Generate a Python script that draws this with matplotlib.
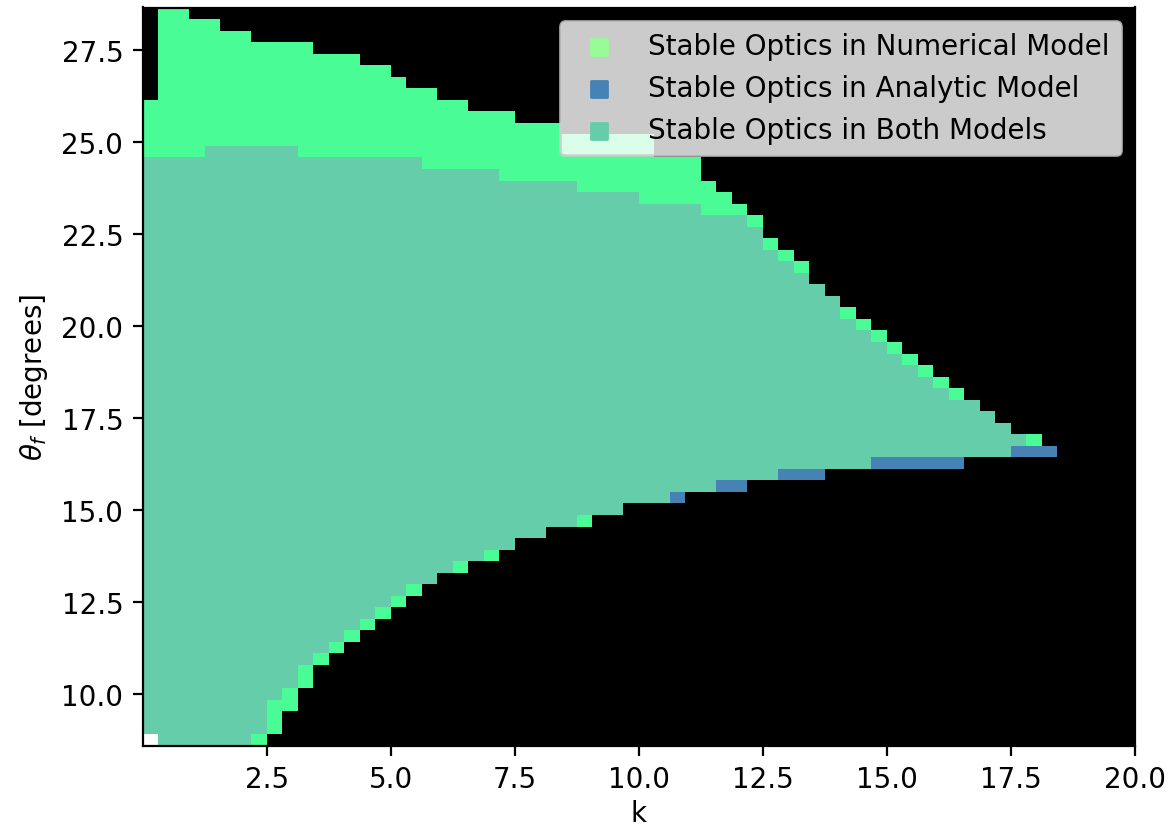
import numpy as np
import matplotlib
matplotlib.use("Agg")
import matplotlib.pyplot as plt
from matplotlib.colors import ListedColormap

# grid: 64 values of k (0 -> 20) and 64 values of theta_f (0.15 -> 0.5 rad)
n_k = 64
n_theta = 64
k_edges = np.linspace(0, 20, n_k + 1)
theta_edges = np.degrees(np.linspace(0.15, 0.5, n_theta + 1))

# stable rows (theta index, lo inclusive / hi exclusive) for every k column
num_lo = [0, 0, 0, 0, 0, 0, 0, 0, 1, 3, 5, 7, 8, 9, 10, 11,
          12, 13, 14, 15, 15, 16, 16, 17, 18, 18, 19, 19, 19, 20, 20, 21,
          21, 21, 22, 22, 22, 23, 23, 23, 23, 24, 24, 24, 24, 24, 24, 25,
          25, 25, 25, 25, 25, 25, 25, 25, 26, 26, 0, 0, 0, 0, 0, 0]
num_hi = [56, 64, 64, 63, 63, 62, 62, 61, 61, 61, 61, 60, 60, 60, 59, 59,
          58, 57, 57, 56, 56, 55, 55, 55, 54, 54, 54, 53, 53, 53, 53, 53,
          53, 51, 51, 51, 49, 48, 47, 46, 44, 43, 42, 40, 39, 38, 37, 36,
          35, 34, 33, 32, 31, 30, 29, 28, 27, 27, 0, 0, 0, 0, 0, 0]
ana_lo = [0, 0, 0, 0, 0, 0, 0, 1, 4, 5, 7, 8, 9, 10, 11, 12,
          13, 14, 14, 15, 16, 16, 17, 17, 18, 18, 19, 19, 20, 20, 20, 21,
          21, 21, 21, 22, 22, 22, 22, 23, 23, 23, 23, 23, 24, 24, 24, 24,
          24, 24, 24, 24, 24, 25, 25, 25, 25, 25, 25, 0, 0, 0, 0, 0]
ana_hi = [51, 51, 51, 51, 52, 52, 52, 52, 52, 52, 51, 51, 51, 51, 51, 51,
          51, 51, 50, 50, 50, 50, 50, 49, 49, 49, 49, 49, 48, 48, 48, 48,
          47, 47, 47, 47, 46, 46, 46, 45, 43, 42, 41, 40, 39, 37, 36, 35,
          34, 33, 32, 31, 30, 30, 29, 28, 27, 26, 26, 0, 0, 0, 0, 0]

rows = np.arange(n_theta)[:, None]
numerical = (rows >= np.array(num_lo)) & (rows < np.array(num_hi))
analytic = (rows >= np.array(ana_lo)) & (rows < np.array(ana_hi))

# 0 = unstable, 1 = numerical only, 2 = analytic only, 3 = both
stability = numerical * 1 + analytic * 2
stability = np.ma.masked_array(stability.astype(float), mask=np.zeros_like(stability, dtype=bool))
stability.mask[0, 0] = True  # failed run

colors = ['black', '#4afc96', '#4682b4', '#66cdaa']
cmap = ListedColormap(colors)

fig = plt.figure(figsize=(1171 / 200, 829 / 200), dpi=200)
ax = fig.add_axes([142.7 / 1171, 82.3 / 829, 992.3 / 1171, 738.2 / 829])

ax.pcolormesh(k_edges, theta_edges, stability, cmap=cmap, vmin=-0.5, vmax=3.5)

# legend handles
ax.scatter([], [], marker='s', color='palegreen', label='Stable Optics in Numerical Model')
ax.scatter([], [], marker='s', color='steelblue', label='Stable Optics in Analytic Model')
ax.scatter([], [], marker='s', color='mediumaquamarine', label='Stable Optics in Both Models')
ax.legend(loc='upper right')

ax.set_xlim(k_edges[0], k_edges[-1])
ax.set_ylim(theta_edges[0], theta_edges[-1])
ax.set_xticks(np.arange(2.5, 20.1, 2.5))
ax.set_xlabel('k', labelpad=2)
ax.set_ylabel(r'$\theta_f$ [degrees]')

fig.savefig('out.png', dpi=200)
